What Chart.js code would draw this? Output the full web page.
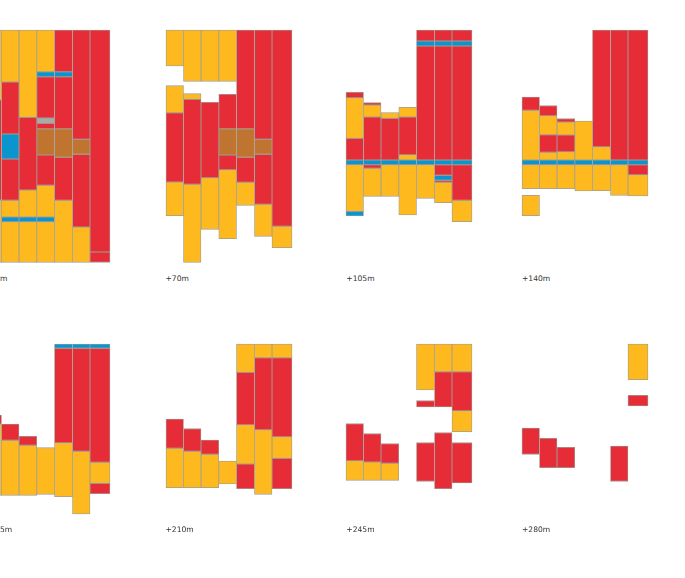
<!DOCTYPE html>
<html>
<head>
<meta charset="utf-8">
<style>
  html, body { margin: 0; padding: 0; background: #fff; overflow: hidden; }
  body { width: 685px; height: 578px; position: relative; }
  .panel { position: absolute; width: 130px; height: 244px; }
  .panel span { position: absolute; left: 2px; font: 7.6px "DejaVu Sans", sans-serif; text-rendering: geometricPrecision; color: #333; white-space: nowrap; }
</style>
<script src="https://cdn.jsdelivr.net/npm/chart.js@4/dist/chart.umd.min.js"></script>
</head>
<body>
<script>
const panelLabels = ['+35m', '+70m', '+105m', '+140m', '+175m', '+210m', '+245m', '+280m'];
const columnEdges = [0, 17.5, 35, 52.8, 70.5, 88.5, 106, 126];
const materialColors = { red: '#e62c37', gold: '#fdb91d', blue: '#0b95cf', tan: '#bf7530', grey: '#a9a9a9' };

// each row: column, material, from, to (depth below the top of the panel)
const rows35 = [
  [0, 'gold', 0, 70], [0, 'red', 70, 170], [0, 'gold', 170, 232.3],
  [1, 'gold', 0, 52], [1, 'red', 52, 104], [1, 'blue', 104, 129], [1, 'red', 129, 170.3], [1, 'gold', 170.3, 187], [1, 'blue', 187, 191.7], [1, 'gold', 191.7, 232.3],
  [2, 'gold', 0, 87.3], [2, 'red', 87.3, 160], [2, 'gold', 160, 187], [2, 'blue', 187, 191.7], [2, 'gold', 191.7, 232.3],
  [3, 'gold', 0, 41.7], [3, 'blue', 41.7, 46.7], [3, 'red', 46.7, 88], [3, 'grey', 88, 93.3], [3, 'red', 93.3, 98.7], [3, 'tan', 98.7, 125], [3, 'red', 125, 155.3], [3, 'gold', 155.3, 187], [3, 'blue', 187, 191.7], [3, 'gold', 191.7, 232.3],
  [4, 'red', 0, 41.7], [4, 'blue', 41.7, 46.7], [4, 'red', 46.7, 98.7], [4, 'tan', 98.7, 127.3], [4, 'red', 127.3, 170.3], [4, 'gold', 170.3, 232.3],
  [5, 'red', 0, 109.3], [5, 'tan', 109.3, 124.3], [5, 'red', 124.3, 197], [5, 'gold', 197, 232.3],
  [6, 'red', 0, 222], [6, 'red', 222, 232.3]
];
const rows70 = [
  [0, 'gold', 0, 36], [0, 'gold', 55.7, 82.7], [0, 'red', 82.7, 152], [0, 'gold', 152, 185.7],
  [1, 'gold', 0, 51.3], [1, 'gold', 63.7, 69.3], [1, 'red', 69.3, 154.3], [1, 'gold', 154.3, 232.3],
  [2, 'gold', 0, 51.3], [2, 'red', 72.3, 147.7], [2, 'gold', 147.7, 199.3],
  [3, 'gold', 0, 51.3], [3, 'red', 64.3, 98.7], [3, 'tan', 98.7, 125], [3, 'red', 125, 139.7], [3, 'gold', 139.7, 208.7],
  [4, 'red', 0, 98.7], [4, 'tan', 98.7, 127.3], [4, 'red', 127.3, 152.3], [4, 'gold', 152.3, 175.3],
  [5, 'red', 0, 109.3], [5, 'tan', 109.3, 124.3], [5, 'red', 124.3, 174.3], [5, 'gold', 174.3, 206.3],
  [6, 'red', 0, 196.3], [6, 'gold', 196.3, 217.7]
];
const rows105 = [
  [0, 'red', 62.3, 67.7], [0, 'gold', 67.7, 108.3], [0, 'red', 108.3, 130], [0, 'blue', 130, 134.7], [0, 'gold', 134.7, 181.3], [0, 'blue', 181.3, 186],
  [1, 'red', 72.7, 75], [1, 'gold', 75, 87], [1, 'red', 87, 130], [1, 'blue', 130, 134.7], [1, 'red', 134.7, 138.3], [1, 'gold', 138.3, 166.3],
  [2, 'gold', 82.7, 88.3], [2, 'red', 88.3, 130], [2, 'blue', 130, 134.7], [2, 'gold', 134.7, 166.3],
  [3, 'gold', 77.3, 87], [3, 'red', 87, 124.7], [3, 'gold', 124.7, 130], [3, 'blue', 130, 134.7], [3, 'gold', 134.7, 185],
  [4, 'red', 0, 11], [4, 'blue', 11, 16], [4, 'red', 16, 130], [4, 'blue', 130, 134.7], [4, 'gold', 134.7, 168.3],
  [5, 'red', 0, 11], [5, 'blue', 11, 16], [5, 'red', 16, 130], [5, 'blue', 130, 134.7], [5, 'red', 134.7, 145.3], [5, 'blue', 145.3, 150.3], [5, 'red', 150.3, 152.3], [5, 'gold', 152.3, 172.7],
  [6, 'red', 0, 11], [6, 'blue', 11, 16], [6, 'red', 16, 130], [6, 'blue', 130, 134.7], [6, 'red', 134.7, 170.3], [6, 'gold', 170.3, 191.7]
];
const rows140 = [
  [0, 'red', 67, 80.3], [0, 'gold', 80.3, 130], [0, 'blue', 130, 134.7], [0, 'gold', 134.7, 158.7], [0, 'gold', 165.3, 185.7],
  [1, 'red', 75.7, 85.7], [1, 'gold', 85.7, 104.7], [1, 'red', 104.7, 122.3], [1, 'gold', 122.3, 130], [1, 'blue', 130, 134.7], [1, 'gold', 134.7, 158.7],
  [2, 'red', 88.7, 92], [2, 'gold', 92, 105], [2, 'red', 105, 121.7], [2, 'gold', 121.7, 130], [2, 'blue', 130, 134.7], [2, 'gold', 134.7, 158.7],
  [3, 'gold', 91, 130], [3, 'blue', 130, 134.7], [3, 'gold', 134.7, 161],
  [4, 'red', 0, 116.7], [4, 'gold', 116.7, 130], [4, 'blue', 130, 134.7], [4, 'gold', 134.7, 160.7],
  [5, 'red', 0, 130], [5, 'blue', 130, 134.7], [5, 'gold', 134.7, 165.3],
  [6, 'red', 0, 130], [6, 'blue', 130, 134.7], [6, 'red', 134.7, 144.7], [6, 'gold', 144.7, 166]
];
const rows175 = [
  [0, 'red', 71, 80], [0, 'gold', 80, 151.3],
  [1, 'red', 80, 96.3], [1, 'gold', 96.3, 151.3],
  [2, 'red', 92.3, 101.3], [2, 'gold', 101.3, 151.3],
  [3, 'gold', 103.7, 150.3],
  [4, 'blue', 0, 4.3], [4, 'red', 4.3, 98.7], [4, 'gold', 98.7, 152.7],
  [5, 'blue', 0, 4.3], [5, 'red', 4.3, 107.3], [5, 'gold', 107.3, 170],
  [6, 'blue', 0, 4.3], [6, 'red', 4.3, 118.3], [6, 'gold', 118.3, 139.3], [6, 'red', 139.3, 149.7]
];
const rows210 = [
  [0, 'red', 75, 104.3], [0, 'gold', 104.3, 143.7],
  [1, 'red', 84.7, 107.3], [1, 'gold', 107.3, 143.7],
  [2, 'red', 96, 110.3], [2, 'gold', 110.3, 143.7],
  [3, 'gold', 117, 140],
  [4, 'gold', 0, 28.3], [4, 'red', 28.3, 80.7], [4, 'gold', 80.7, 120], [4, 'red', 120, 144.7],
  [5, 'gold', 0, 13.7], [5, 'red', 13.7, 85.7], [5, 'gold', 85.7, 150.3],
  [6, 'gold', 0, 13.7], [6, 'red', 13.7, 92.7], [6, 'gold', 92.7, 114.3], [6, 'red', 114.3, 144.7]
];
const rows245 = [
  [0, 'red', 79.7, 116.7], [0, 'gold', 116.7, 136.3],
  [1, 'red', 89.7, 118], [1, 'gold', 118, 136.3],
  [2, 'red', 99.7, 119.3], [2, 'gold', 119.3, 136.3],
  [4, 'gold', 0, 46], [4, 'red', 56.7, 63], [4, 'red', 98.7, 137.3],
  [5, 'gold', 0, 27.7], [5, 'red', 27.7, 63], [5, 'red', 88.7, 144.7],
  [6, 'gold', 0, 27.7], [6, 'red', 27.7, 66.7], [6, 'gold', 66.7, 87.7], [6, 'red', 98.7, 139]
];
const rows280 = [
  [0, 'red', 84, 110.3],
  [1, 'red', 94.3, 123.7],
  [2, 'red', 103.3, 123.7],
  [5, 'red', 102, 137.3],
  [6, 'gold', 0, 35.7], [6, 'red', 51.3, 62]
];

const panelRows = [rows35, rows70, rows105, rows140, rows175, rows210, rows245, rows280];
const panelLeft = [-18, 163.5, 344.3, 520];
const panelTop = [28, 342];
const labelTop = [246, 183];

function makeDatasets(rows) {
  return rows.map(function (r) {
    const left = columnEdges[r[0]];
    const right = columnEdges[r[0] + 1];
    return {
      data: [{ x: (left + right) / 2, y: [r[2], r[3]] }],
      backgroundColor: materialColors[r[1]],
      borderColor: '#a19d96',
      borderWidth: 0.8,
      borderSkipped: false,
      barThickness: right - left
    };
  });
}

panelRows.forEach(function (rows, i) {
  const row = Math.floor(i / 4);
  const div = document.createElement('div');
  div.className = 'panel';
  div.style.left = panelLeft[i % 4] + 'px';
  div.style.top = panelTop[row] + 'px';
  const canvas = document.createElement('canvas');
  div.appendChild(canvas);
  const label = document.createElement('span');
  label.textContent = panelLabels[i];
  label.style.top = labelTop[row] + 'px';
  div.appendChild(label);
  document.body.appendChild(div);

  new Chart(canvas, {
    type: 'bar',
    data: { datasets: makeDatasets(rows) },
    options: {
      responsive: true,
      maintainAspectRatio: false,
      animation: false,
      layout: { padding: 0 },
      plugins: { legend: { display: false }, tooltip: { enabled: false } },
      scales: {
        x: { type: 'linear', min: -2, max: 128, stacked: true, offset: false, display: false },
        y: { min: -2, max: 242, reverse: true, display: false }
      }
    }
  });
});
</script>
</body>
</html>
